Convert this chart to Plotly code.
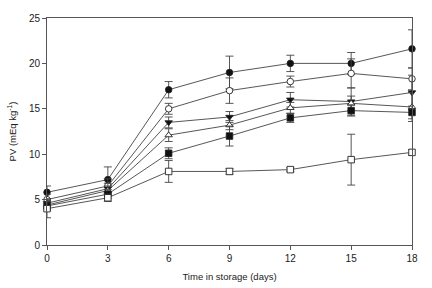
import plotly.graph_objects as go

days = [0, 3, 6, 9, 12, 15, 18]

filled_circle = [5.8, 7.2, 17.1, 19.0, 20.0, 20.0, 21.6]
filled_circle_err = [0.7, 1.4, 0.9, 1.8, 0.9, 1.2, 2.1]

open_circle = [5.0, 6.5, 15.0, 17.0, 18.0, 18.9, 18.3]
open_circle_err = [0.6, 0.8, 0.6, 1.4, 0.6, 1.6, 1.2]

filled_tri = [4.6, 6.2, 13.5, 14.1, 16.0, 15.8, 16.8]
filled_tri_err = [0.5, 0.6, 0.6, 0.6, 0.8, 1.5, 1.9]

open_tri = [4.4, 6.0, 12.1, 13.2, 15.1, 15.6, 15.2]
open_tri_err = [0.5, 0.5, 0.7, 0.5, 0.6, 0.8, 1.6]

filled_sq = [4.3, 5.6, 10.1, 12.0, 14.0, 14.8, 14.6]
filled_sq_err = [0.5, 0.5, 0.6, 1.1, 0.5, 0.6, 0.7]

open_sq = [4.0, 5.2, 8.1, 8.1, 8.3, 9.4, 10.2]
open_sq_err = [1.0, 0.4, 1.2, 0.3, 0.2, 2.8, 0.3]

series = [
    (filled_circle, filled_circle_err, "circle", "#111111"),
    (open_circle, open_circle_err, "circle", "white"),
    (filled_tri, filled_tri_err, "triangle-down", "#111111"),
    (open_tri, open_tri_err, "triangle-up", "white"),
    (filled_sq, filled_sq_err, "square", "#111111"),
    (open_sq, open_sq_err, "square", "white"),
]

fig = go.Figure()
for vals, errs, sym, fill in series:
    fig.add_trace(go.Scatter(
        x=days, y=vals, mode="lines+markers",
        line=dict(color="#444444", width=0.9),
        marker=dict(symbol=sym, size=6.5, color=fill,
                    line=dict(color="#222222", width=0.9)),
        error_y=dict(type="data", array=errs, visible=True,
                     color="#444444", thickness=0.9, width=4),
        cliponaxis=False, showlegend=False,
    ))

axis_common = dict(
    showgrid=False, zeroline=False, showline=True, linecolor="#555555",
    linewidth=1, mirror=True, ticks="outside", ticklen=4, tickcolor="#555555",
    automargin=False,
    tickfont=dict(family="Liberation Sans, Arial, sans-serif", size=10, color="#222222"),
)

fig.update_layout(
    template="none",
    width=432, height=288,
    margin=dict(l=47, r=20, t=18, b=43, autoexpand=False),
    plot_bgcolor="white", paper_bgcolor="white",
    font=dict(family="Liberation Sans, Arial, sans-serif", size=9, color="#222222"),
    xaxis=dict(range=[0, 18], tickvals=days,
               title=dict(text="Time in storage (days)", standoff=10,
                          font=dict(size=9.5)),
               **axis_common),
    yaxis=dict(range=[0, 25], tickvals=[0, 5, 10, 15, 20, 25],
               title=dict(text="PV (mEq kg<sup>-1</sup>)", standoff=10,
                          font=dict(size=9.5)),
               **axis_common),
)

fig.write_html(
    "out.html",
    config={"displayModeBar": False},
    post_script="document.body.style.margin='0';document.body.style.overflow='hidden';",
)
